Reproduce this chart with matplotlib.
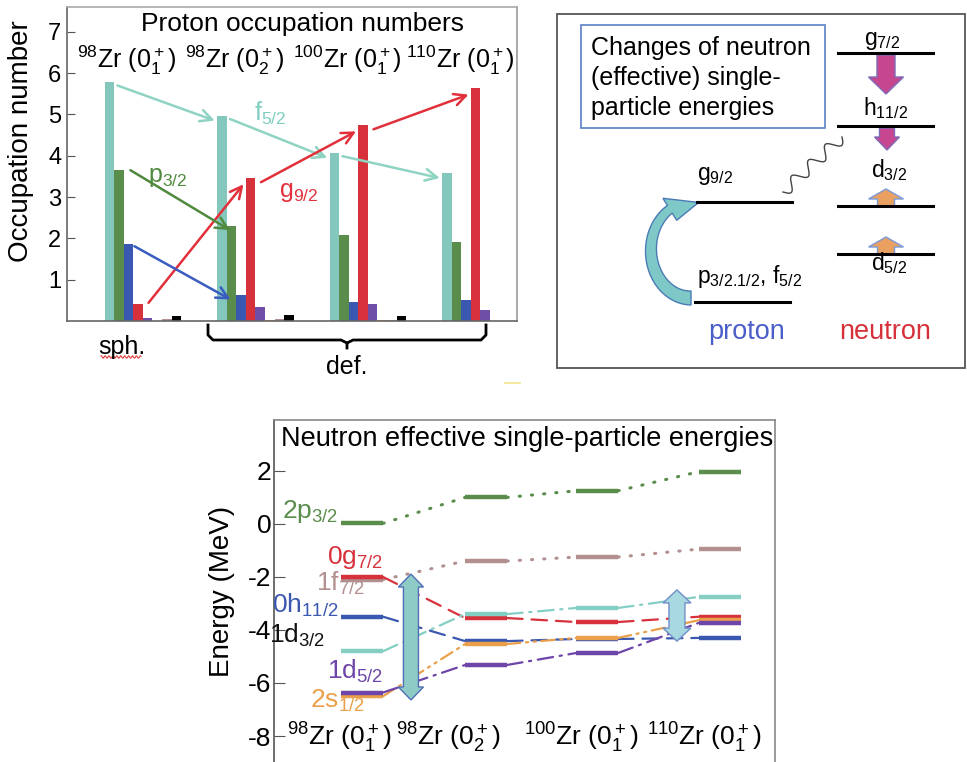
import numpy as np
import matplotlib
matplotlib.use('Agg')
import matplotlib.pyplot as plt
from matplotlib.patches import Rectangle, FancyArrow, Polygon

plt.rcParams['font.family'] = ['Liberation Sans', 'DejaVu Sans']
plt.rcParams['mathtext.fontset'] = 'custom'
plt.rcParams['mathtext.rm'] = 'Liberation Sans'
plt.rcParams['mathtext.it'] = 'Liberation Sans:italic'
plt.rcParams['axes.unicode_minus'] = False

# ═══════════════════════════════════════════════
# Data
# ═══════════════════════════════════════════════
nuclei = [r'$^{98}$Zr (0$^+_1$)', r'$^{98}$Zr (0$^+_2$)',
          r'$^{100}$Zr (0$^+_1$)', r'$^{110}$Zr (0$^+_1$)']

# proton occupation numbers (8 orbits per nucleus)
occ_f52 = [5.78, 4.97, 4.07, 3.58]
occ_p32 = [3.65, 2.30, 2.09, 1.90]
occ_p12 = [1.86, 0.62, 0.47, 0.52]
occ_g92 = [0.41, 3.46, 4.74, 5.63]
occ_d52 = [0.08, 0.34, 0.41, 0.26]
occ_s12 = [0.01, 0.02, 0.02, 0.00]
occ_d32 = [0.04, 0.04, 0.02, 0.00]
occ_g72 = [0.12, 0.14, 0.12, 0.00]
occ_series = [occ_f52, occ_p32, occ_p12, occ_g92, occ_d52, occ_s12, occ_d32, occ_g72]
occ_colors = ['#84c8bd', '#5a8d4b', '#3b58b0', '#d7323c', '#6e4ea6', '#eea044', '#b39090', '#000000']

# neutron effective single-particle energies (MeV)
lev_names = [r'2p$_{3/2}$', r'0g$_{7/2}$', r'1f$_{7/2}$', r'0h$_{11/2}$',
             r'1d$_{3/2}$', r'1d$_{5/2}$', r'2s$_{1/2}$']
e_2p32 = [0.02, 1.00, 1.25, 1.97]
e_0g72 = [-2.00, -3.55, -3.70, -3.50]
e_1f72 = [-2.10, -1.40, -1.25, -0.95]
e_0h112 = [-3.50, -4.42, -4.34, -4.30]
e_1d32 = [-4.80, -3.40, -3.17, -2.75]
e_1d52 = [-6.36, -5.32, -4.87, -3.73]
e_2s12 = [-6.50, -4.53, -4.30, -3.63]
lev_energies = [e_2p32, e_0g72, e_1f72, e_0h112, e_1d32, e_1d52, e_2s12]
lev_colors = ['#5a8d4b', '#d7323c', '#b39090', '#3b58b0', '#84cfc4', '#6e45a8', '#eaa04a']
lev_label_colors = ['#5a8d4b', '#d7323c', '#b39090', '#3b58b0', '#111111', '#6e45a8', '#eaa04a']

# ═══════════════════════════════════════════════
fig = plt.figure(figsize=(9.67, 7.62), dpi=100)


def px_rect(l, t, r, b):
    return [l / 967, 1 - b / 762, (r - l) / 967, (b - t) / 762]


# ─── Top-left: proton occupation numbers ───
ax1 = fig.add_axes(px_rect(67, 7, 517, 321))
w = 0.0853
xg = np.arange(len(nuclei))
for k, (vals, c) in enumerate(zip(occ_series, occ_colors)):
    ax1.bar(xg + k * w, vals, width=w, align='edge', color=c, linewidth=0)
ax1.set_xlim(-1 / 3, 11 / 3)
ax1.set_ylim(0, 7.6)
ax1.set_yticks(range(1, 8))
ax1.set_xticks([])
ax1.tick_params(axis='y', direction='in', length=6, labelsize=17, pad=4, color='#555')
for s, c in [('left', '#666'), ('bottom', '#666'), ('top', '#aaa'), ('right', '#999')]:
    ax1.spines[s].set_color(c)
    ax1.spines[s].set_linewidth(1.2)

ax1.text(1.76, 7.19, 'Proton occupation numbers', fontsize=19, ha='center', va='center')
for xl, lab in zip([0.2, 1.16, 2.16, 3.16], nuclei):
    ax1.text(xl, 6.13, lab, fontsize=18, ha='center', va='baseline')

arr = dict(arrowstyle='->,head_length=0.6,head_width=0.3', lw=1.8, shrinkA=0, shrinkB=0,
           mutation_scale=14)
for i in range(3):
    ax1.annotate('', xy=(i + 1 - 0.02, occ_f52[i + 1] - 0.12), xytext=(i + w + 0.03, occ_f52[i] - 0.08),
                 arrowprops=dict(color='#8fd3c3', **arr))
    ax1.annotate('', xy=(i + 1 + 3 * w - 0.02, occ_g92[i + 1] - 0.15),
                 xytext=(i + 4 * w + 0.05, occ_g92[i] + 0.03 if i == 0 else occ_g92[i] - 0.1),
                 arrowprops=dict(color='#e2303b', **arr))
ax1.annotate('', xy=(1 + w + 0.03, occ_p32[1] - 0.1), xytext=(2 * w + 0.06, occ_p32[0]),
             arrowprops=dict(color='#4f8a3f', **arr))
ax1.annotate('', xy=(1 + 2 * w - 0.05, occ_p12[1] - 0.1), xytext=(3 * w + 0.01, occ_p12[0] - 0.05),
             arrowprops=dict(color='#3a5cc0', **arr))
ax1.text(1.47, 5.03, r'f$_{5/2}$', color='#7fcfc0', fontsize=18, ha='center', va='center')
ax1.text(0.56, 3.49, r'p$_{3/2}$', color='#4f8a3f', fontsize=18, ha='center', va='center')
ax1.text(1.73, 3.12, r'g$_{9/2}$', color='#e2303b', fontsize=18, ha='center', va='center')
fig.text(21 / 967, 1 - 141 / 762, 'Occupation number', rotation=90, fontsize=20,
         ha='center', va='center')

# ─── Bottom: neutron effective single-particle energies ───
ax3 = fig.add_axes(px_rect(274, 420, 775, 762))
seg_x = [0.0, 1.04, 1.97, 3.0]
hw = 0.176
dot = (0, (0.4, 3.6))
dash = (0, (7, 4))
dashdot = (0, (7, 3, 1, 3))
dashdotdot = (0, (6, 2.5, 1, 2.5, 1, 2.5))
conn_styles = [dot, dash, dot, dash, dashdot, dashdot, dashdotdot]
conn_lw = [2.2, 1.6, 2.2, 1.6, 1.6, 1.6, 1.6]
draw_order = [0, 2, 1, 4, 3, 6, 5]
for j in draw_order:
    ev, c = lev_energies[j], lev_colors[j]
    for i in range(len(seg_x)):
        ax3.plot([seg_x[i] - hw, seg_x[i] + hw], [ev[i], ev[i]], color=c, lw=3.2,
                 solid_capstyle='butt', zorder=3)
        if i < len(seg_x) - 1:
            ax3.plot([seg_x[i] + hw, seg_x[i + 1] - hw], [ev[i], ev[i + 1]], color=c, lw=conn_lw[j],
                     linestyle=conn_styles[j], dash_capstyle='round', zorder=2)

lab_pos = [(-0.20, 0.23), (0.176, -1.51), (0.025, -2.53), (-0.20, -3.36),
           (-0.31, -4.49), (0.176, -5.85), (0.025, -6.94)]
for (lx, ly), name, c in zip(lab_pos, lev_names, lev_label_colors):
    ax3.text(lx, ly, name, color=c, fontsize=19, ha='right', va='baseline', zorder=5)

for xl, lab in zip([-0.19, 0.72, 1.84, 2.87], nuclei):
    ax3.text(xl, -8.38, lab, fontsize=19, ha='center', va='baseline')
ax3.text(1.38, 3.2, 'Neutron effective single-particle energies', fontsize=19.5,
         ha='center', va='center')


def double_arrow(ax, xc, y_top, y_bot, shaft_hw, head_hw, head_len, fc, ec):
    pts = [(xc, y_top), (xc + head_hw, y_top - head_len), (xc + shaft_hw, y_top - head_len),
           (xc + shaft_hw, y_bot + head_len), (xc + head_hw, y_bot + head_len), (xc, y_bot),
           (xc - head_hw, y_bot + head_len), (xc - shaft_hw, y_bot + head_len),
           (xc - shaft_hw, y_top - head_len), (xc - head_hw, y_top - head_len)]
    ax.add_patch(Polygon(pts, closed=True, fc=fc, ec=ec, lw=1.0, zorder=6))


double_arrow(ax3, 0.41, -1.89, -6.64, 0.063, 0.105, 0.49, '#8ecac6', '#4f6fb5')
double_arrow(ax3, 2.64, -2.49, -4.42, 0.067, 0.117, 0.49, '#a9d9e0', '#6f8fc9')

ax3.set_xlim(-0.738, 3.462)
ax3.set_ylim(-8.98, 3.92)
ax3.set_yticks([-8, -6, -4, -2, 0, 2])
ax3.set_yticklabels(['-8', '-6', '-4', '-2', '0', '2'])
ax3.set_xticks([])
ax3.tick_params(axis='y', direction='in', length=8, labelsize=19, pad=2, color='#555')
ax3.spines['bottom'].set_visible(False)
for s, c in [('left', '#555'), ('top', '#888'), ('right', '#888')]:
    ax3.spines[s].set_color(c)
    ax3.spines[s].set_linewidth(1.2)
fig.text(222 / 967, 1 - 591 / 762, 'Energy (MeV)', rotation=90, fontsize=20,
         ha='center', va='center')

# ─── Overlay in pixel coordinates: schematic, brace ───
ov = fig.add_axes([0, 0, 1, 1])
ov.set_xlim(0, 967)
ov.set_ylim(762, 0)
ov.axis('off')
ov.patch.set_alpha(0)

# brace + labels under occupation panel
ov.plot([208, 208, 213, 341, 347, 347], [325, 335, 340, 340, 343, 348], color='k', lw=2)
ov.plot([486, 486, 481, 353, 347], [325, 335, 340, 340, 343], color='k', lw=2)
ov.text(122, 347, 'sph.', fontsize=18, ha='center', va='center')
sq = np.linspace(101, 141, 200)
ov.plot(sq, 357 + 1.2 * np.sin(sq * 1.6), color='#e04040', lw=0.8)
ov.text(347, 367, 'def.', fontsize=18, ha='center', va='center')
ov.plot([505, 520], [383, 383], color='#f6e9a0', lw=1.5)

# schematic frame
ov.add_patch(Rectangle((557, 14), 408, 354, fill=False, ec='#555', lw=1.3))
ov.add_patch(Rectangle((581, 25), 244, 103, fill=False, ec='#5b7fc7', lw=1.2))
for yb, line in zip([55, 85, 115], ['Changes of neutron', '(effective) single-', 'particle energies']):
    ov.text(591, yb, line, fontsize=18, ha='left', va='baseline')

# neutron levels
for yl in [53, 126, 206, 254]:
    ov.plot([838, 933], [yl, yl], color='k', lw=2.2)
ov.text(882, 45, r'g$_{7/2}$', fontsize=16.5, ha='center', va='baseline')
ov.text(886, 115, r'h$_{11/2}$', fontsize=16.5, ha='center', va='baseline')
ov.text(889, 177, r'd$_{3/2}$', fontsize=16.5, ha='center', va='baseline')
ov.text(889, 270, r'd$_{5/2}$', fontsize=16.5, ha='center', va='baseline')
ov.add_patch(FancyArrow(886, 55, 0, 39, width=18, head_width=35, head_length=17,
                        length_includes_head=True, fc='#c6478f', ec='#7d6bb8', lw=1))
ov.add_patch(FancyArrow(887, 128, 0, 22, width=15, head_width=25, head_length=13,
                        length_includes_head=True, fc='#c6478f', ec='#7d6bb8', lw=1))
for yl in [206, 254]:
    ov.add_patch(FancyArrow(886, yl, 0, -17, width=17, head_width=35, head_length=10,
                            length_includes_head=True, fc='#e9a060', ec='#7a9ad8', lw=1))

# proton levels
ov.plot([697, 792], [202, 202], color='k', lw=2.2)
ov.plot([695, 790], [302, 302], color='k', lw=2.2)
ov.text(697, 180, r'g$_{9/2}$', fontsize=16.5, ha='left', va='baseline')
ov.text(697, 283, r'p$_{3/2.1/2}$, f$_{5/2}$', fontsize=16.5, ha='left', va='baseline')

# curved C-shaped arrow (proton excitation p,f -> g9/2)
cx, cy, rx, ry = 691, 250, 40, 48
th = np.radians(np.linspace(90, 238, 60))
tw = np.linspace(7, 4.5, 60)
outer = np.c_[cx + (rx + tw) * np.cos(th), cy + (ry + tw) * np.sin(th)]
inner = np.c_[cx + (rx - tw) * np.cos(th), cy + (ry - tw) * np.sin(th)]
tb = np.radians(238)
tip_t = np.radians(278)
head = [(cx + (rx + 13) * np.cos(tb), cy + (ry + 13) * np.sin(tb)),
        (cx + rx * np.cos(tip_t) + 2, cy + ry * np.sin(tip_t)),
        (cx + (rx - 13) * np.cos(tb), cy + (ry - 13) * np.sin(tb))]
c_pts = np.vstack([outer, head[:1], head[1:2], head[2:3], inner[::-1]])
ov.add_patch(Polygon(c_pts, closed=True, fc='#7fc8c8', ec='#4b7bb5', lw=1))

t = np.linspace(0, 1, 300)
p0, p1 = np.array([783, 192]), np.array([842, 137])
d = p1 - p0
nrm = np.array([-d[1], d[0]]) / np.hypot(*d)
wave = p0[None, :] + t[:, None] * d[None, :] + 6 * np.sin(2 * np.pi * 3.5 * t)[:, None] * nrm[None, :]
ov.plot(wave[:, 0], wave[:, 1], color='#444', lw=1)
ov.text(747, 332, 'proton', fontsize=19.5, color='#4a5fc8', ha='center', va='center')
ov.text(885, 332, 'neutron', fontsize=19.5, color='#d6303a', ha='center', va='center')

fig.savefig('out.png', dpi=100)
